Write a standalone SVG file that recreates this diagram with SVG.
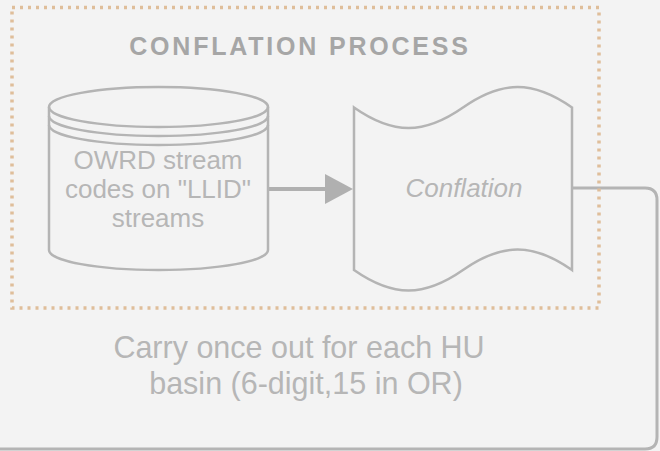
<svg xmlns="http://www.w3.org/2000/svg" width="660" height="451" viewBox="0 0 660 451">
<defs>
<style>
.bg{fill:#f3f3f3}
.shape{fill:#f3f3f3;stroke:#b4b4b4;stroke-width:2.5}
.line{fill:none;stroke:#b4b4b4;stroke-width:2.5}
.conn{fill:none;stroke:#b0b0b0;stroke-width:4}
.loop{fill:none;stroke:#b4b4b4;stroke-width:3}
.grp{fill:none;stroke:#dfbe9a;stroke-width:3.5;stroke-dasharray:3 5}
.t{font-family:"Liberation Sans",Arial,sans-serif;fill:#b6b6b6;text-anchor:middle}
.title{fill:#a6a6a6}
</style>
</defs>
<rect class="bg" x="0" y="0" width="660" height="451"/>
<g id="connectors">
<path class="loop" d="M572,188 H645 Q657,188 657,200 V437 Q657,449 645,449 H0"/>
<line class="conn" x1="269" y1="189" x2="327" y2="189"/>
<path d="M325,174 L353,189 L325,204 Z" fill="#b0b0b0"/>
</g>
<g id="group-conflation-process">
<rect class="grp" x="12" y="7.5" width="587" height="300.5"/>
<text class="t title" x="300" y="55" font-size="25" font-weight="bold" letter-spacing="2.8">CONFLATION PROCESS</text>
</g>
<g id="node-owrd">
<path class="shape" d="M49,107 A109.5,20 0 0 1 268,107 V250 A109.5,20 0 0 1 49,250 Z"/>
<path class="line" d="M49,107 A109.5,20 0 0 0 268,107"/>
<path class="line" d="M49,116 A109.5,20 0 0 0 268,116"/>
<path class="line" d="M49,125 A109.5,20 0 0 0 268,125"/>
<text class="t" x="158" y="169" font-size="26">OWRD stream</text>
<text class="t" x="158" y="198" font-size="26">codes on "LLID"</text>
<text class="t" x="158" y="227" font-size="26">streams</text>
</g>
<g id="node-conflation">
<path class="shape" d="M354,107.5 C393,134.8 424,134.8 463,107.5 C502,80.2 533,80.2 572,107.5 V270 C533,242.7 502,242.7 463,270 C424,297.3 393,297.3 354,270 Z"/>
<text class="t" x="464" y="197" font-size="26" font-style="italic">Conflation</text>
</g>
<g id="label-carry">
<text class="t" x="299" y="358" font-size="30.5">Carry once out for each HU</text>
<text class="t" x="306" y="394" font-size="30.5">basin (6-digit,15 in OR)</text>
</g>
</svg>
